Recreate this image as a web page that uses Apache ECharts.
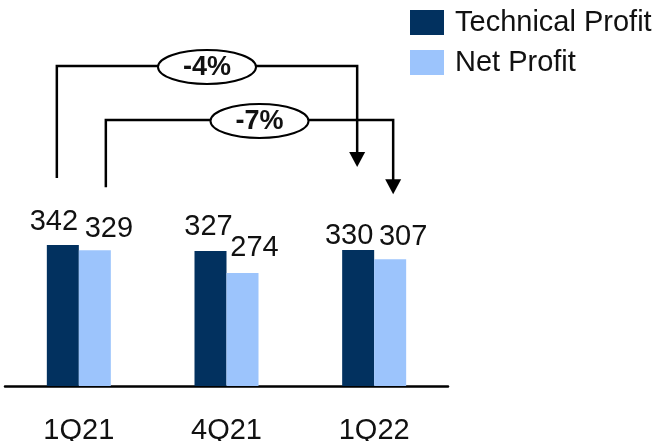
<!DOCTYPE html>
<html>
<head>
<meta charset="utf-8">
<script src="https://cdn.jsdelivr.net/npm/echarts@6/dist/echarts.min.js"></script>
<style>
  html, body { margin: 0; padding: 0; background: #fff; }
  #chart { width: 672px; height: 441px; }
</style>
</head>
<body>
<div id="chart"></div>
<script>
// Quarterly profit, in millions
const categories = ['1Q21', '4Q21', '1Q22'];
const technicalProfit = [342, 327, 330];
const netProfit = [329, 274, 307];
const seriesNames = ['Technical Profit', 'Net Profit'];
// Year-on-year change 1Q21 -> 1Q22 for each series
const changeLabels = ['-4%', '-7%'];

const DARK = '#02315F';
const LIGHT = '#9CC4FC';
const FONT = '"Liberation Sans", Arial, sans-serif';

// Small per-label nudges so the value labels sit like the printed deck
const techNudge = [[-9, -3], [-2, -5], [-9, 6]];
const netNudge = [[14, -2], [12, -5], [13, -3]];

function withLabels(values, nudges) {
  return values.map((v, i) => ({
    value: v,
    label: { offset: nudges[i] }
  }));
}

const labelStyle = {
  show: true,
  position: 'top',
  distance: 5,
  fontFamily: FONT,
  fontSize: 29,
  color: '#111'
};

const chart = echarts.init(document.getElementById('chart'), null, { renderer: 'canvas' });

chart.setOption({
  animation: false,
  backgroundColor: '#fff',
  grid: { left: 5, right: 224, top: 56, bottom: 55, outerBoundsMode: 'none', containLabel: false },
  legend: {
    orient: 'vertical',
    left: 405,
    top: 3,
    itemWidth: 34,
    itemHeight: 25,
    itemGap: 11,
    icon: 'rect',
    textStyle: { fontFamily: FONT, fontSize: 29, color: '#111', padding: [0, 0, 0, 6] },
    data: seriesNames
  },
  xAxis: {
    type: 'category',
    data: categories,
    axisLine: { lineStyle: { color: '#000', width: 2.5 } },
    axisTick: { show: false },
    axisLabel: { fontFamily: FONT, fontSize: 29, color: '#111', margin: 30 }
  },
  yAxis: {
    type: 'value',
    min: 0,
    max: 800,
    show: false,
    splitLine: { show: false }
  },
  series: [
    {
      name: seriesNames[0],
      type: 'bar',
      barWidth: 32,
      barGap: '0%',
      itemStyle: { color: DARK },
      label: labelStyle,
      data: withLabels(technicalProfit, techNudge)
    },
    {
      name: seriesNames[1],
      type: 'bar',
      barWidth: 32,
      barGap: '0%',
      itemStyle: { color: LIGHT },
      label: labelStyle,
      data: withLabels(netProfit, netNudge)
    }
  ]
});

// Change brackets: from the 1Q21 bar up, across, and down onto the 1Q22 bar
function px(catIndex, value) {
  return chart.convertToPixel({ xAxisIndex: 0, yAxisIndex: 0 }, [catIndex, value]);
}

const first = 0;
const last = categories.length - 1;

const brackets = [
  {
    startX: px(first, 0)[0] - 22,
    startY: px(first, technicalProfit[first])[1] - 67,
    topY: 66,
    endX: px(last, 0)[0] - 17,
    tipY: px(last, technicalProfit[last])[1] - 83,
    bubbleShift: 0,
    text: changeLabels[0]
  },
  {
    startX: px(first, 0)[0] + 27,
    startY: px(first, netProfit[first])[1] - 63,
    topY: 120,
    endX: px(last, 0)[0] + 19,
    tipY: px(last, netProfit[last])[1] - 65,
    bubbleShift: 10,
    text: changeLabels[1]
  }
];

const headLen = 15;
const headHalf = 8;
const graphics = [];

brackets.forEach(b => {
  graphics.push({
    type: 'polyline',
    shape: {
      points: [
        [b.startX, b.startY],
        [b.startX, b.topY],
        [b.endX, b.topY],
        [b.endX, b.tipY - headLen + 1]
      ]
    },
    style: { stroke: '#000', lineWidth: 2.5, fill: null }
  });
  graphics.push({
    type: 'polygon',
    shape: {
      points: [
        [b.endX - headHalf, b.tipY - headLen],
        [b.endX + headHalf, b.tipY - headLen],
        [b.endX, b.tipY]
      ]
    },
    style: { fill: '#000' }
  });
  const cx = (b.startX + b.endX) / 2 + b.bubbleShift;
  graphics.push({
    type: 'ellipse',
    shape: { cx: cx, cy: b.topY + 1, rx: 49, ry: 17 },
    style: { fill: '#fff', stroke: '#000', lineWidth: 2 },
    z: 10
  });
  graphics.push({
    type: 'text',
    x: cx,
    y: b.topY + 2,
    style: {
      text: b.text,
      fontFamily: FONT,
      fontWeight: 'bold',
      fontSize: 27,
      fill: '#111',
      align: 'center',
      verticalAlign: 'middle'
    },
    z: 11
  });
});

chart.setOption({ graphic: graphics });
</script>
</body>
</html>
